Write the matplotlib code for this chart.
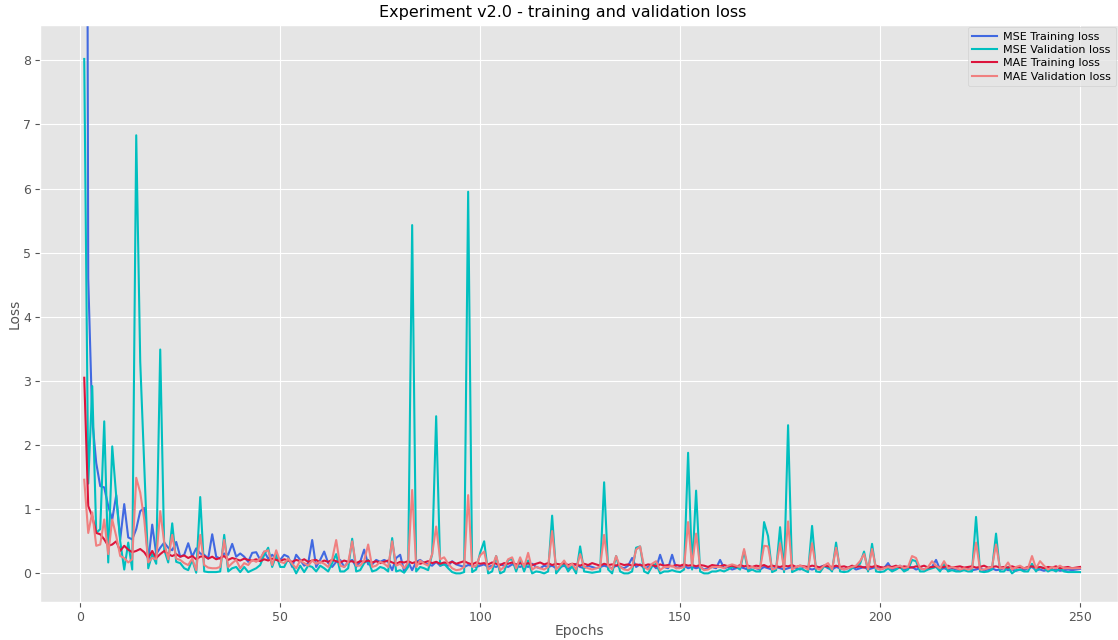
import matplotlib
matplotlib.use("Agg")
import matplotlib.pyplot as plt
import numpy as np

plt.style.use("ggplot")

epochs = np.arange(1, 251)

mse_train = [
    30.0, 4.6, 2.40, 1.72, 1.36, 1.34, 1.05, 0.84, 1.22, 0.53,
    1.08, 0.56, 0.53, 0.69, 0.97, 1.02, 0.17, 0.76, 0.30, 0.40,
    0.48, 0.40, 0.36, 0.49, 0.26, 0.29, 0.47, 0.26, 0.39, 0.31,
    0.29, 0.23, 0.61, 0.26, 0.23, 0.31, 0.29, 0.46, 0.26, 0.31,
    0.26, 0.18, 0.32, 0.33, 0.21, 0.34, 0.23, 0.29, 0.23, 0.21,
    0.29, 0.26, 0.10, 0.29, 0.21, 0.12, 0.16, 0.52, 0.10, 0.21,
    0.34, 0.16, 0.10, 0.18, 0.21, 0.10, 0.18, 0.21, 0.10, 0.18,
    0.37, 0.14, 0.14, 0.21, 0.18, 0.21, 0.18, 0.05, 0.24, 0.29,
    0.03, 0.18, 0.05, 0.18, 0.21, 0.16, 0.14, 0.12, 0.18, 0.12,
    0.14, 0.12, 0.19, 0.14, 0.12, 0.10, 0.13, 0.12, 0.10, 0.12,
    0.14, 0.10, 0.12, 0.10, 0.14, 0.12, 0.10, 0.14, 0.12, 0.10,
    0.13, 0.10, 0.15, 0.10, 0.08, 0.12, 0.10, 0.12, 0.08, 0.10,
    0.12, 0.08, 0.10, 0.14, 0.10, 0.08, 0.12, 0.10, 0.08, 0.10,
    0.12, 0.10, 0.08, 0.12, 0.10, 0.08, 0.12, 0.24, 0.10, 0.14,
    0.08, 0.10, 0.14, 0.08, 0.29, 0.10, 0.08, 0.29, 0.08, 0.10,
    0.12, 0.08, 0.10, 0.08, 0.10, 0.06, 0.08, 0.10, 0.08, 0.21,
    0.08, 0.10, 0.06, 0.08, 0.10, 0.08, 0.06, 0.10, 0.08, 0.06,
    0.10, 0.08, 0.06, 0.10, 0.08, 0.06, 0.08, 0.10, 0.08, 0.06,
    0.10, 0.08, 0.06, 0.08, 0.10, 0.12, 0.08, 0.06, 0.10, 0.08,
    0.06, 0.08, 0.10, 0.06, 0.08, 0.10, 0.06, 0.08, 0.10, 0.06,
    0.08, 0.16, 0.06, 0.08, 0.12, 0.06, 0.08, 0.10, 0.06, 0.08,
    0.06, 0.08, 0.10, 0.21, 0.06, 0.08, 0.06, 0.08, 0.06, 0.05,
    0.06, 0.08, 0.05, 0.06, 0.08, 0.05, 0.06, 0.08, 0.05, 0.06,
    0.08, 0.05, 0.06, 0.04, 0.06, 0.05, 0.08, 0.10, 0.05, 0.06,
    0.04, 0.06, 0.05, 0.06, 0.04, 0.05, 0.06, 0.05, 0.06, 0.07,
]

mse_val = [
    8.02, 1.40, 2.92, 0.63, 0.69, 2.37, 0.17, 1.98, 1.20, 0.50,
    0.06, 0.48, 0.06, 6.83, 3.30, 1.70, 0.08, 0.30, 0.15, 3.49,
    0.37, 0.17, 0.78, 0.18, 0.16, 0.08, 0.05, 0.21, 0.01, 1.19,
    0.03, 0.02, 0.02, 0.02, 0.03, 0.60, 0.03, 0.08, 0.10, 0.02,
    0.10, 0.02, 0.05, 0.08, 0.13, 0.29, 0.40, 0.10, 0.29, 0.10,
    0.10, 0.23, 0.13, 0.00, 0.12, 0.02, 0.12, 0.10, 0.03, 0.12,
    0.08, 0.03, 0.16, 0.30, 0.03, 0.03, 0.08, 0.54, 0.03, 0.05,
    0.16, 0.21, 0.03, 0.05, 0.10, 0.08, 0.03, 0.55, 0.03, 0.05,
    0.01, 0.10, 5.43, 0.03, 0.10, 0.08, 0.05, 0.30, 2.45, 0.12,
    0.15, 0.08, 0.02, 0.00, 0.00, 0.02, 5.95, 0.02, 0.06, 0.32,
    0.50, 0.00, 0.03, 0.27, 0.00, 0.03, 0.21, 0.22, 0.03, 0.21,
    0.03, 0.20, 0.00, 0.03, 0.02, 0.00, 0.03, 0.90, 0.00, 0.08,
    0.16, 0.03, 0.11, 0.00, 0.42, 0.03, 0.02, 0.01, 0.02, 0.03,
    1.42, 0.06, 0.00, 0.27, 0.03, 0.00, 0.00, 0.03, 0.40, 0.42,
    0.03, 0.00, 0.11, 0.15, 0.00, 0.03, 0.03, 0.05, 0.03, 0.02,
    0.06, 1.88, 0.06, 1.29, 0.03, 0.00, 0.00, 0.03, 0.03, 0.05,
    0.03, 0.06, 0.10, 0.10, 0.06, 0.35, 0.03, 0.06, 0.03, 0.03,
    0.80, 0.58, 0.02, 0.05, 0.72, 0.02, 2.31, 0.02, 0.05, 0.08,
    0.05, 0.02, 0.74, 0.03, 0.02, 0.11, 0.10, 0.03, 0.48, 0.03,
    0.02, 0.03, 0.08, 0.11, 0.15, 0.34, 0.03, 0.46, 0.03, 0.02,
    0.03, 0.08, 0.03, 0.06, 0.10, 0.03, 0.06, 0.21, 0.19, 0.03,
    0.03, 0.06, 0.08, 0.10, 0.03, 0.15, 0.03, 0.05, 0.03, 0.03,
    0.05, 0.03, 0.03, 0.88, 0.03, 0.02, 0.03, 0.06, 0.62, 0.03,
    0.03, 0.10, 0.00, 0.05, 0.06, 0.03, 0.03, 0.15, 0.03, 0.10,
    0.08, 0.03, 0.06, 0.03, 0.08, 0.03, 0.02, 0.02, 0.02, 0.02,
]

mae_train = [
    3.05, 1.05, 0.89, 0.63, 0.61, 0.53, 0.43, 0.45, 0.50, 0.35,
    0.43, 0.37, 0.33, 0.35, 0.38, 0.33, 0.24, 0.35, 0.24, 0.30,
    0.35, 0.30, 0.27, 0.30, 0.26, 0.28, 0.24, 0.27, 0.22, 0.26,
    0.27, 0.23, 0.26, 0.22, 0.24, 0.27, 0.21, 0.24, 0.22, 0.20,
    0.23, 0.21, 0.20, 0.22, 0.19, 0.22, 0.20, 0.23, 0.21, 0.19,
    0.22, 0.20, 0.18, 0.21, 0.19, 0.22, 0.18, 0.20, 0.21, 0.17,
    0.20, 0.18, 0.21, 0.19, 0.17, 0.20, 0.18, 0.19, 0.16, 0.19,
    0.18, 0.20, 0.17, 0.19, 0.16, 0.18, 0.20, 0.17, 0.15, 0.18,
    0.17, 0.19, 0.16, 0.18, 0.15, 0.17, 0.19, 0.16, 0.18, 0.15,
    0.17, 0.16, 0.18, 0.15, 0.17, 0.19, 0.16, 0.14, 0.17, 0.15,
    0.16, 0.14, 0.17, 0.15, 0.13, 0.16, 0.15, 0.17, 0.14, 0.16,
    0.14, 0.16, 0.13, 0.15, 0.17, 0.14, 0.16, 0.13, 0.15, 0.14,
    0.16, 0.13, 0.15, 0.14, 0.12, 0.15, 0.13, 0.16, 0.14, 0.12,
    0.15, 0.13, 0.14, 0.12, 0.15, 0.13, 0.14, 0.12, 0.14, 0.13,
    0.12, 0.14, 0.13, 0.11, 0.14, 0.12, 0.13, 0.11, 0.13, 0.12,
    0.14, 0.12, 0.13, 0.11, 0.13, 0.12, 0.10, 0.13, 0.12, 0.11,
    0.13, 0.11, 0.12, 0.10, 0.13, 0.11, 0.12, 0.10, 0.12, 0.11,
    0.13, 0.10, 0.12, 0.11, 0.10, 0.12, 0.11, 0.13, 0.10, 0.12,
    0.11, 0.10, 0.12, 0.11, 0.09, 0.12, 0.11, 0.10, 0.12, 0.10,
    0.11, 0.09, 0.12, 0.10, 0.11, 0.09, 0.11, 0.10, 0.12, 0.10,
    0.09, 0.11, 0.10, 0.12, 0.09, 0.11, 0.10, 0.09, 0.11, 0.10,
    0.12, 0.09, 0.10, 0.11, 0.09, 0.10, 0.12, 0.09, 0.10, 0.11,
    0.09, 0.10, 0.11, 0.09, 0.10, 0.12, 0.09, 0.10, 0.11, 0.09,
    0.10, 0.09, 0.11, 0.09, 0.10, 0.08, 0.10, 0.11, 0.09, 0.10,
    0.08, 0.10, 0.09, 0.11, 0.08, 0.09, 0.10, 0.08, 0.09, 0.10,
]

mae_val = [
    1.46, 0.63, 0.95, 0.43, 0.45, 0.84, 0.30, 0.84, 0.58, 0.27,
    0.24, 0.17, 0.22, 1.49, 1.26, 0.84, 0.17, 0.24, 0.22, 0.97,
    0.48, 0.22, 0.60, 0.23, 0.21, 0.16, 0.13, 0.23, 0.05, 0.60,
    0.13, 0.09, 0.08, 0.08, 0.10, 0.52, 0.10, 0.16, 0.21, 0.08,
    0.16, 0.13, 0.21, 0.18, 0.23, 0.34, 0.36, 0.13, 0.36, 0.18,
    0.16, 0.23, 0.15, 0.08, 0.20, 0.16, 0.12, 0.20, 0.15, 0.18,
    0.15, 0.10, 0.22, 0.52, 0.12, 0.10, 0.17, 0.50, 0.12, 0.12,
    0.20, 0.45, 0.10, 0.12, 0.18, 0.15, 0.10, 0.50, 0.12, 0.15,
    0.08, 0.17, 1.30, 0.10, 0.20, 0.15, 0.12, 0.30, 0.73, 0.22,
    0.25, 0.15, 0.08, 0.05, 0.06, 0.10, 1.22, 0.10, 0.12, 0.28,
    0.34, 0.06, 0.10, 0.27, 0.05, 0.10, 0.22, 0.25, 0.08, 0.25,
    0.10, 0.32, 0.06, 0.10, 0.08, 0.06, 0.10, 0.66, 0.06, 0.12,
    0.20, 0.10, 0.15, 0.06, 0.30, 0.10, 0.08, 0.06, 0.08, 0.10,
    0.60, 0.12, 0.06, 0.27, 0.10, 0.06, 0.05, 0.10, 0.37, 0.42,
    0.10, 0.06, 0.15, 0.19, 0.05, 0.10, 0.10, 0.12, 0.08, 0.08,
    0.10, 0.80, 0.12, 0.62, 0.10, 0.05, 0.06, 0.10, 0.10, 0.10,
    0.08, 0.12, 0.14, 0.12, 0.10, 0.38, 0.08, 0.10, 0.08, 0.08,
    0.43, 0.42, 0.06, 0.08, 0.47, 0.06, 0.81, 0.06, 0.10, 0.12,
    0.10, 0.06, 0.47, 0.08, 0.06, 0.12, 0.16, 0.06, 0.40, 0.08,
    0.06, 0.08, 0.10, 0.12, 0.19, 0.30, 0.06, 0.38, 0.08, 0.06,
    0.08, 0.10, 0.08, 0.10, 0.12, 0.08, 0.10, 0.27, 0.24, 0.08,
    0.06, 0.10, 0.19, 0.12, 0.08, 0.19, 0.08, 0.10, 0.08, 0.06,
    0.08, 0.06, 0.08, 0.48, 0.06, 0.06, 0.08, 0.10, 0.45, 0.08,
    0.08, 0.17, 0.06, 0.10, 0.12, 0.08, 0.08, 0.27, 0.08, 0.19,
    0.12, 0.06, 0.10, 0.08, 0.12, 0.08, 0.08, 0.08, 0.08, 0.08,
]

fig = plt.figure(figsize=(11.18, 6.4), dpi=100)
ax = fig.add_axes([0.036, 0.059, 0.964, 0.902])

ax.plot(epochs, mse_train, color="royalblue", lw=1.5, label="MSE Training loss")
ax.plot(epochs, mse_val, color="c", lw=1.5, label="MSE Validation loss")
ax.plot(epochs, mae_train, color="crimson", lw=1.5, label="MAE Training loss")
ax.plot(epochs, mae_val, color="lightcoral", lw=1.5, label="MAE Validation loss")

ax.set_xlim(-10, 259.5)
ax.set_ylim(-0.45, 8.55)
ax.set_xticks(range(0, 251, 50))
ax.set_yticks(range(0, 9))
ax.tick_params(labelsize=9, pad=3)

ax.set_title("Experiment v2.0 - training and validation loss", fontsize=11.5, x=0.485)
ax.set_xlabel("Epochs", fontsize=10, labelpad=0)
ax.set_ylabel("Loss", fontsize=10, labelpad=1)
ax.legend(loc="upper right", fontsize=8, borderaxespad=0.2,
          labelspacing=0.3, handlelength=2.2, handletextpad=0.6)

fig.savefig("out.png", dpi=100)
